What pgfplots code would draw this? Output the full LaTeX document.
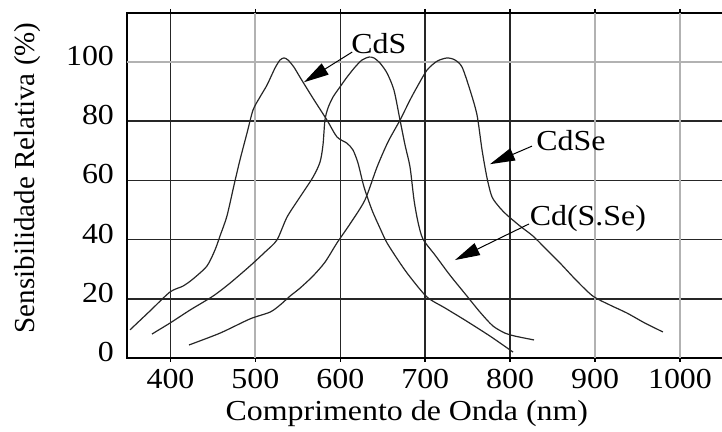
\documentclass[border=0pt]{standalone}
\usepackage{fontspec}
\setmainfont{Liberation Serif}
\newfontfamily\wide[FakeStretch=1.1]{Liberation Serif}
\usepackage{pgfplots}
\pgfplotsset{compat=1.18}
\usetikzlibrary{arrows.meta}
\begin{document}
\begin{tikzpicture}
\path[use as bounding box] (-63.5pt,-37pt) rectangle (297.5pt,179pt);
\begin{axis}[
  scale only axis, width=299pt, height=172.5pt,
  xmin=348.8, xmax=1053, ymin=0, ymax=116.6,
  axis line style={black, line width=0.9pt},
  xtick={400,600,700,800}, extra x ticks={500,900,1000},
  ytick={0,20,40,60,80}, extra y ticks={100},
  xmajorgrids, ymajorgrids,
  major grid style={black!85, line width=0.8pt},
  extra tick style={xmajorgrids, ymajorgrids, major grid style={black!30, line width=1.1pt}},
  tick align=outside, major tick length=2pt,
  xtick style={black, line width=0.8pt},
  ytick style={draw=none},
  /pgf/number format/assume math mode=true,
  /pgf/number format/1000 sep={},
  ticklabel style={font=\wide\fontsize{14.5}{17}\selectfont, text=black},
  yticklabel style={yshift=3pt, xshift=-1pt},
  xlabel={Comprimento de Onda (nm)},
  ylabel={Sensibilidade Relativa (\%)},
  xlabel style={font=\wide\fontsize{14.5}{17}\selectfont, at={(axis description cs:0.468,-0.162)}, anchor=center},
  ylabel style={font=\fontsize{14.5}{17}\selectfont, at={(axis description cs:-0.1656,0.522)}, anchor=center},
  clip=false,
]
% CdS
\addplot[black!85, line width=0.6pt, smooth, tension=0.45, mark=none] coordinates {
(352.3,9.5)(375.9,15.9)(399.4,22.3)(414.7,24.3)(426.5,26.7)(443.0,31.1)(452.4,36.5)
(458.3,41.2)(466.5,48.0)(474.8,58.4)(481.8,66.9)(490.1,76.0)(497.2,83.8)(505.4,88.2)
(513.6,92.2)(523.1,98.0)(529.0,100.7)(533.7,101.4)(538.4,100.7)(545.4,98.3)(552.5,94.9)
(567.8,87.8)(584.3,80.4)(596.1,74.7)(607.8,72.6)(614.9,70.3)(620.8,65.9)(627.9,57.8)
(637.3,50.0)(646.7,43.9)(655.0,38.9)(670.3,32.1)(682.1,27.4)(702.1,20.6)(723.3,16.9)
(746.8,12.8)(776.3,7.4)(803.4,2.0)
};
% Cd(S.Se)
\addplot[black!85, line width=0.6pt, smooth, tension=0.45, mark=none] coordinates {
(378.2,8.1)(399.4,11.8)(423.0,16.2)(450.0,20.9)(470.1,25.3)(493.6,31.1)(511.3,35.8)
(525.4,39.9)(537.2,47.6)(552.5,54.4)(567.8,61.1)(576.1,66.2)(579.6,72.0)(581.9,80.4)
(585.5,84.5)(591.4,88.2)(599.6,91.6)(607.8,94.9)(617.3,98.3)(625.5,100.7)(633.8,101.7)
(639.6,101.4)(646.7,99.7)(655.0,96.3)(663.2,90.5)(670.3,80.4)(676.2,72.0)(682.1,64.5)
(686.8,53.4)(691.5,45.9)(697.3,40.2)(711.5,34.8)(729.1,28.0)(749.2,20.9)(764.5,15.5)
(779.8,10.8)(794.0,8.4)(805.7,7.4)(828.1,6.1)
};
% CdSe
\addplot[black!85, line width=0.6pt, smooth, tension=0.45, mark=none] coordinates {
(421.8,4.4)(458.3,8.4)(493.6,13.2)(517.2,15.5)(529.0,17.9)(540.7,20.9)(552.5,23.6)
(567.8,27.7)(582.0,32.4)(596.1,38.9)(611.4,45.3)(629.0,53.4)(643.2,64.5)(656.1,73.0)
(670.3,80.4)(682.1,87.2)(690.4,91.6)(702.1,97.3)(713.9,100.3)(725.7,101.4)(735.1,100.7)
(743.4,98.3)(752.8,90.5)(761.0,82.1)(766.9,70.3)(772.8,60.8)(778.7,54.4)(788.1,50.7)
(796.3,48.3)(811.6,44.6)(826.9,41.2)(843.4,36.5)(858.7,32.1)(878.7,26.0)(897.5,20.9)
(917.5,17.9)(937.5,15.2)(958.7,11.8)(979.9,8.8)
};
\tikzset{ann/.style={font=\wide\fontsize{14.5}{17}\selectfont, anchor=center, inner sep=0pt},
  arr/.style={black, line width=0.5pt, -{Triangle[length=12.5pt,width=6.5pt]}}}
\node[ann] at (axis cs:645.5,106.4) {CdS};
\draw[arr] (axis cs:614.0,103.4) -- (axis cs:557.2,93.2);
\node[ann] at (axis cs:871.6,73.6) {CdSe};
\draw[arr] (axis cs:825.7,71.6) -- (axis cs:776.2,65.5);
\node[ann] at (axis cs:891.6,47.3) {Cd(S.Se)};
\draw[arr] (axis cs:822.2,45.3) -- (axis cs:735.0,33.1);
\end{axis}
\end{tikzpicture}
\end{document}
